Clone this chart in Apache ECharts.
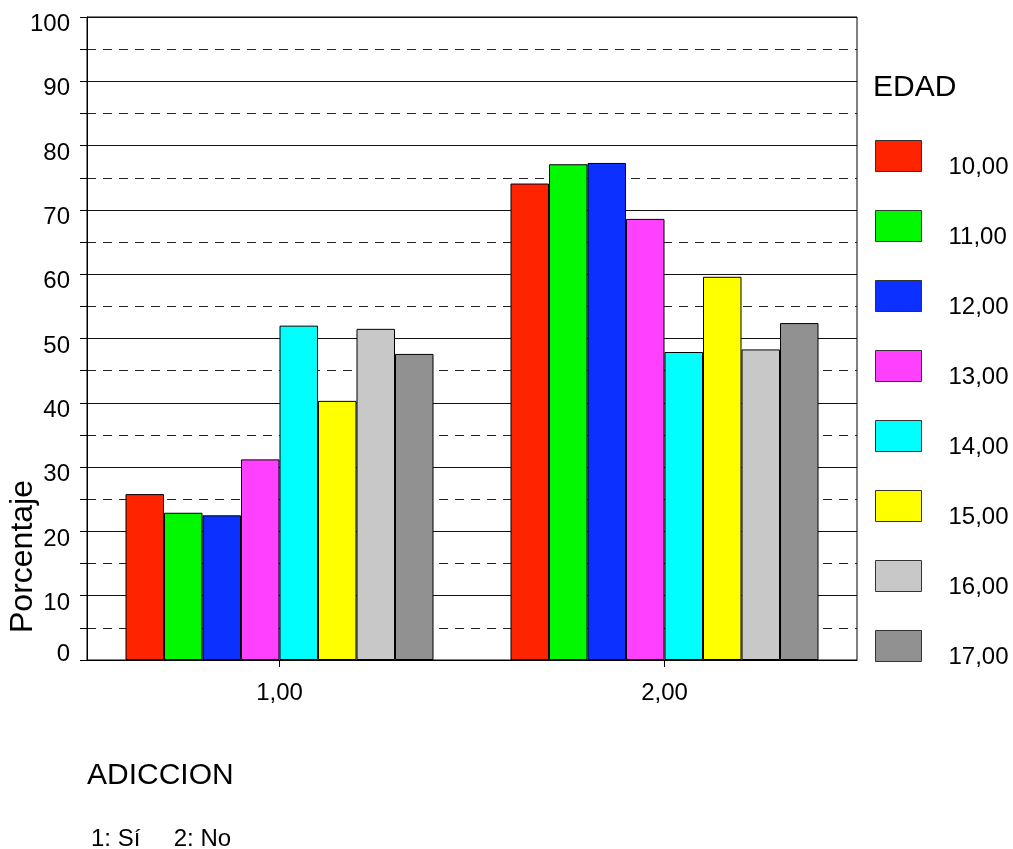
<!DOCTYPE html>
<html>
<head>
<meta charset="utf-8">
<script src="https://cdn.jsdelivr.net/npm/echarts@6/dist/echarts.min.js"></script>
<style>
html,body{margin:0;padding:0;background:#fff;}
#chart{width:1013px;height:849px;}
</style>
</head>
<body>
<div id="chart"></div>
<script>
const categories = ['1,00', '2,00'];
const ages = ['10,00', '11,00', '12,00', '13,00', '14,00', '15,00', '16,00', '17,00'];
const edad10 = [25.8, 74.1];
const edad11 = [22.9, 77.1];
const edad12 = [22.5, 77.3];
const edad13 = [31.2, 68.6];
const edad14 = [52.0, 47.9];
const edad15 = [40.3, 59.6];
const edad16 = [51.5, 48.3];
const edad17 = [47.6, 52.4];
const seriesValues = [edad10, edad11, edad12, edad13, edad14, edad15, edad16, edad17];
const colors = ['#FF2400', '#00F800', '#0B30FF', '#FF40FF', '#00FFFF', '#FFFF00', '#C8C8C8', '#919191'];
const yTicks = [0, 10, 20, 30, 40, 50, 60, 70, 80, 90, 100];

const FONT = 'Liberation Sans, Arial, sans-serif';
const chart = echarts.init(document.getElementById('chart'), null, {renderer: 'canvas'});
chart.setOption({
  animation: false,
  backgroundColor: '#fff',
  color: colors,
  textStyle: {fontFamily: FONT, color: '#000'},
  title: [
    {text: 'EDAD', left: 868, top: 68, textStyle: {fontFamily: FONT, fontSize: 30, fontWeight: 'normal', color: '#000'}},
    {text: 'ADICCION', left: 82, top: 756, textStyle: {fontFamily: FONT, fontSize: 30, fontWeight: 'normal', color: '#000'}},
    {text: '1: Sí     2: No', left: 86, top: 822, textStyle: {fontFamily: FONT, fontSize: 24, fontWeight: 'normal', color: '#000'}}
  ],
  graphic: [{
    type: 'text',
    x: 23,
    y: 633,
    rotation: Math.PI / 2,
    style: {text: 'Porcentaje', font: '32px ' + FONT, fill: '#000', textAlign: 'left', textVerticalAlign: 'middle'}
  }],
  legend: {
    orient: 'vertical',
    left: 875,
    top: 140,
    itemWidth: 46,
    itemHeight: 31,
    itemGap: 31,
    icon: 'rect',
    padding: 0,
    selectedMode: false,
    formatter: '{a|{name}}',
    textStyle: {fontFamily: FONT, fontSize: 24, color: '#000',
      rich: {a: {fontFamily: FONT, fontSize: 24, color: '#000', padding: [22, 0, 0, 22]}}},
    itemStyle: {borderColor: '#333', borderWidth: 1},
    data: ages
  },
  grid: {left: 87, right: 156, top: 17, bottom: 189, show: true, borderColor: '#000', borderWidth: 1, containLabel: false},
  xAxis: {
    type: 'category',
    data: categories,
    axisLine: {lineStyle: {color: '#000', width: 1}},
    axisTick: {show: true, alignWithLabel: true, length: 7, lineStyle: {color: '#000'}},
    axisLabel: {fontFamily: FONT, fontSize: 24, color: '#000', margin: 21}
  },
  yAxis: {
    type: 'value',
    min: 0, max: 100, interval: 10,
    axisLine: {show: true, lineStyle: {color: '#000', width: 1}},
    axisTick: {show: true, length: 7, lineStyle: {color: '#000'}},
    minorTick: {show: true, splitNumber: 2, length: 7, lineStyle: {color: '#000'}},
    splitLine: {show: true, lineStyle: {color: '#111', width: 1}},
    minorSplitLine: {show: true, lineStyle: {color: '#222', width: 1, type: [9, 7]}},
    axisLabel: {fontFamily: FONT, fontSize: 24, color: '#000', margin: 17,
      formatter: function (v) {
        if (yTicks.indexOf(v) < 0) return '';
        return v === 0 ? '{z|' + v + '}' : '{d|' + v + '}';
      },
      rich: {
        d: {fontFamily: FONT, fontSize: 24, color: '#000', padding: [15, 0, 0, 0]},
        z: {fontFamily: FONT, fontSize: 24, color: '#000', padding: [0, 0, 12, 0]}
      }
    }
  },
  series: ages.map(function (a, i) {
    return {
      name: a,
      type: 'bar',
      data: seriesValues[i],
      barGap: '0%',
      barCategoryGap: '20%',
      itemStyle: {color: colors[i], borderColor: '#000', borderWidth: 1}
    };
  })
});
</script>
</body>
</html>
